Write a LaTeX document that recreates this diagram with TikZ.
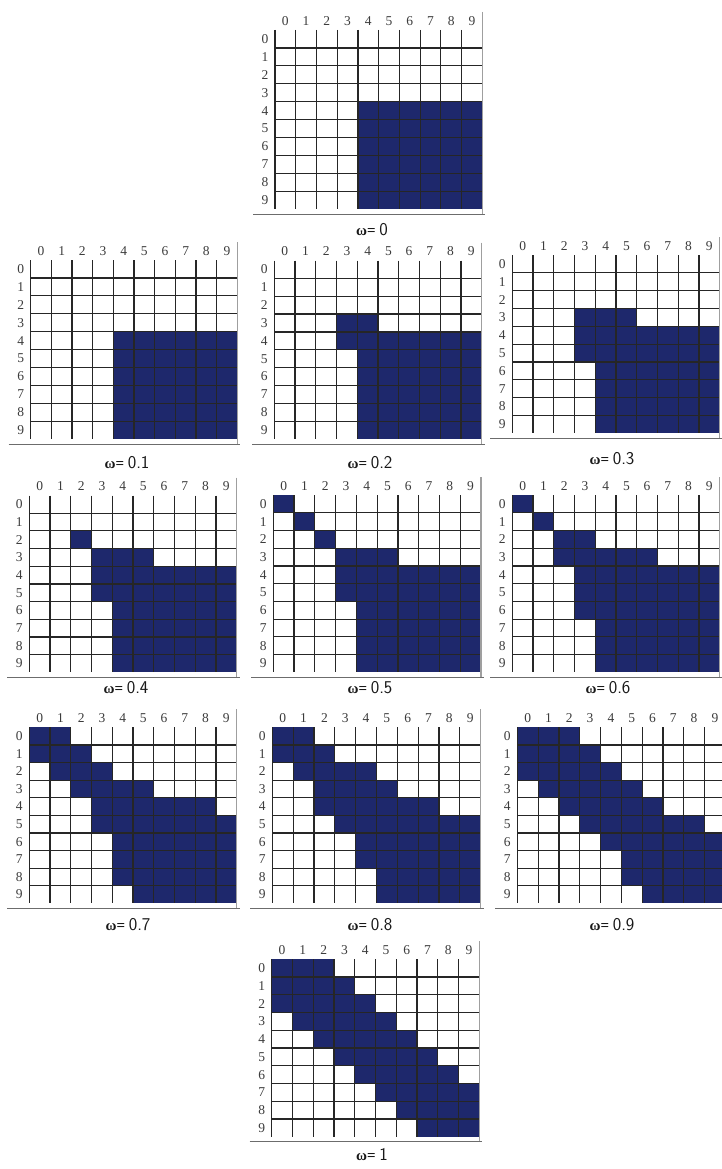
\documentclass[tikz,border=0pt]{standalone}
\usepackage{fontspec}
\newfontfamily\lblfont{Liberation Serif}
\definecolor{navy}{RGB}{30,40,108}
\definecolor{gline}{RGB}{38,38,38}
\definecolor{lab}{RGB}{60,60,60}
\tikzset{
  gridline/.style={draw=gline,line width=1.2pt},
  cellfill/.style={fill=navy},
  rightline/.style={draw=gray!75,line width=1.1pt},
  floorline/.style={draw=gray!85!black,line width=1pt},
  lbl/.style={text=lab,font=\lblfont\fontsize{13.5}{14}\selectfont,inner sep=0pt},
  captionstyle/.style={inner sep=0pt,text=black!90,font=\lblfont\fontsize{15}{15}\selectfont}
}
\newcommand\captext[1]{\textbf{ω=}\ {\sffamily\fontsize{18}{18}\selectfont #1}}
% #1 name, #2 left, #3 top, #4 cell w, #5 cell h, #6 fill list, #7 caption, #8 cap x, #9 cap y
\newcommand\mygrid[9]{%
  \begin{scope}[shift={(#2,#3)}]
    \foreach \r/\a/\b in {#6}{\fill[cellfill] ({\a*#4},{\r*#5}) rectangle ({(\b+1)*#4},{(\r+1)*#5});}
    \foreach \i in {0,...,9}{\draw[gridline] ({\i*#4},0) -- ({\i*#4},{10*#5});}
    \foreach \j in {1,...,9}{\draw[gridline] (0,{\j*#5}) -- ({10*#4},{\j*#5});}
    \draw[rightline] ({10*#4},-18) -- ({10*#4},{10*#5+5});
    \draw[floorline] (-22,{10*#5+5}) -- ({10*#4+3},{10*#5+5});
    \foreach \i in {0,...,9}{\node[lbl] (#1c\i) at ({(\i+0.5)*#4},-9) {\i};}
    \foreach \i in {0,...,9}{\node[lbl] (#1r\i) at (-10,{(\i+0.5)*#5}) {\i};}
  \end{scope}
  \node[captionstyle] (#1cap) at (#8,#9) {\captext{#7}};
}
\begin{document}
\begin{tikzpicture}[x=1pt,y=-1pt]
\useasboundingbox[fill=white] (0,0) rectangle (721,1169);
\mygrid{ga}{275}{30}{20.73}{17.93}{4/4/9,5/4/9,6/4/9,7/4/9,8/4/9,9/4/9}{0}{372}{230}
\mygrid{gb}{30.7}{260}{20.66}{17.93}{4/4/9,5/4/9,6/4/9,7/4/9,8/4/9,9/4/9}{0.1}{127}{463}
\mygrid{gc}{274.3}{260.5}{20.74}{17.85}{3/3/4,4/3/9,5/4/9,6/4/9,7/4/9,8/4/9,9/4/9}{0.2}{370}{463}
\mygrid{gd}{512.3}{255}{20.74}{17.83}{3/3/5,4/3/9,5/3/9,6/4/9,7/4/9,8/4/9,9/4/9}{0.3}{612}{459}
\mygrid{ge}{29.3}{495.5}{20.74}{17.68}{2/2/2,3/3/5,4/3/9,5/3/9,6/4/9,7/4/9,8/4/9,9/4/9}{0.4}{126}{688}
\mygrid{gf}{273.3}{495}{20.77}{17.73}{0/0/0,1/1/1,2/2/2,3/3/5,4/3/9,5/3/9,6/4/9,7/4/9,8/4/9,9/4/9}{0.5}{370}{688}
\mygrid{gg}{512.3}{495}{20.74}{17.73}{0/0/0,1/1/1,2/2/3,3/2/6,4/3/9,5/3/9,6/3/9,7/4/9,8/4/9,9/4/9}{0.6}{608}{688}
\mygrid{gh}{29.3}{727.3}{20.74}{17.6}{0/0/1,1/0/2,2/1/3,3/2/5,4/3/8,5/3/9,6/4/9,7/4/9,8/4/9,9/5/9}{0.7}{128}{925}
\mygrid{gi}{272.3}{727.3}{20.83}{17.6}{0/0/1,1/0/2,2/1/4,3/2/5,4/2/7,5/3/9,6/4/9,7/4/9,8/5/9,9/5/9}{0.8}{370}{925}
\mygrid{gj}{517.3}{727.3}{20.8}{17.6}{0/0/2,1/0/3,2/0/4,3/1/5,4/2/6,5/3/8,6/4/9,7/5/9,8/5/9,9/6/9}{0.9}{612}{925}
\mygrid{gk}{271.7}{959.3}{20.77}{17.74}{0/0/2,1/0/3,2/0/4,3/1/5,4/2/6,5/3/7,6/4/8,7/5/9,8/6/9,9/7/9}{1}{372}{1155}
\end{tikzpicture}
\end{document}
